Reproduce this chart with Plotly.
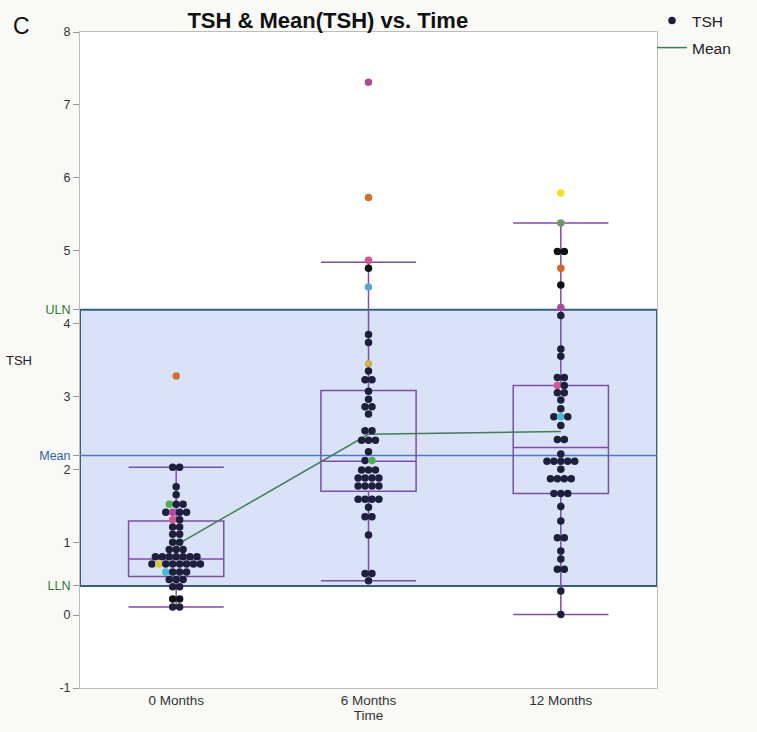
import plotly.graph_objects as go

# ---------------- data ----------------
time_labels = ["0 Months", "6 Months", "12 Months"]

tsh_0m = [0.80, 3.28, 2.03, 2.03, 1.76, 1.65, 1.52, 1.52, 1.52,
          1.41, 1.41, 1.41, 1.41, 1.31, 1.31, 1.21, 1.21, 1.11, 1.11,
          1.00, 1.00, 0.90, 0.90, 0.90, 0.80, 0.80, 0.80, 0.80, 0.80, 0.80,
          0.70, 0.70, 0.70, 0.70, 0.70, 0.70, 0.70, 0.70,
          0.59, 0.59, 0.59, 0.59, 0.49, 0.49, 0.49, 0.39, 0.39,
          0.22, 0.22, 0.11, 0.11]
col_0m = ["navy", "orange", "navy", "navy", "navy", "navy", "green", "navy", "navy",
          "navy", "magenta", "navy", "navy", "pink", "navy", "navy", "navy", "navy", "navy",
          "navy", "navy", "navy", "navy", "navy", "navy", "navy", "navy", "navy", "navy", "navy",
          "navy", "yellow", "navy", "navy", "navy", "navy", "navy", "navy",
          "cyan", "navy", "navy", "navy", "navy", "navy", "navy", "navy", "navy",
          "black", "black", "navy", "navy"]

tsh_6m = [7.31, 5.73, 4.87, 4.76, 4.50, 3.85, 3.74, 3.45, 3.35, 3.23, 3.23,
          3.07, 2.96, 2.86, 2.86, 2.76, 2.53, 2.53, 2.40, 2.40, 2.40, 2.24,
          2.12, 2.12, 1.99, 1.99, 1.99, 1.88, 1.88, 1.88, 1.88,
          1.77, 1.77, 1.77, 1.77, 1.59, 1.59, 1.59, 1.59, 1.48, 1.35, 1.35,
          1.10, 0.57, 0.57, 0.47]
col_6m = ["magenta", "orange", "pink", "black", "steel", "navy", "navy", "yellow2", "navy", "navy", "navy",
          "navy", "navy", "navy", "navy", "navy", "navy", "navy", "navy", "navy", "navy", "navy",
          "navy", "green", "navy", "navy", "navy", "navy", "navy", "navy", "navy",
          "navy", "navy", "navy", "navy", "navy", "navy", "navy", "navy", "navy", "navy", "navy",
          "navy", "navy", "navy", "navy"]

tsh_12m = [5.79, 5.38, 4.99, 4.99, 4.76, 4.53, 4.22, 4.11, 3.65, 3.55, 3.26, 3.26,
           3.15, 3.15, 3.05, 3.05, 2.95, 2.83, 2.72, 2.72, 2.72, 2.60, 2.41, 2.41,
           2.21, 2.11, 2.11, 2.11, 2.11, 2.11, 2.00, 1.87, 1.87, 1.87, 1.87,
           1.67, 1.67, 1.67, 1.49, 1.29, 1.06, 1.06, 0.88, 0.77, 0.63, 0.63, 0.33, 0.01]
col_12m = ["yellow3", "green2", "black", "black", "orange2", "black", "magenta", "navy", "navy", "navy", "navy", "navy",
           "pink", "navy", "navy", "navy", "navy", "navy", "navy", "cyan", "navy", "navy", "navy", "navy",
           "navy", "navy", "navy", "navy", "navy", "navy", "navy", "navy", "navy", "navy", "navy",
           "navy", "navy", "navy", "navy", "navy", "navy", "navy", "navy", "navy", "navy", "navy", "navy", "navy"]

mean_tsh = [0.96, 2.48, 2.52]

box_q1 = [0.53, 1.70, 1.67]
box_median = [0.77, 2.11, 2.30]
box_q3 = [1.29, 3.08, 3.15]
box_lower = [0.11, 0.47, 0.01]
box_upper = [2.03, 4.84, 5.38]

ref_lln, ref_mean, ref_uln = 0.40, 2.19, 4.19

palette = {
    "navy": "#1e1f3d", "black": "#111111", "orange": "#d0702a", "orange2": "#d8602a",
    "green": "#4fb04f", "green2": "#6a9a62", "magenta": "#ad4a9e", "pink": "#d4558f",
    "yellow": "#d6cc3a", "yellow2": "#cdb24a", "yellow3": "#f2e21c", "cyan": "#40bedb",
    "steel": "#5aa6c6",
}

# ---------------- swarm offsets ----------------
SPACING = 0.036


def swarm(values, center):
    xs = []
    groups = {}
    for v in values:
        groups[v] = groups.get(v, 0) + 1
    seen = {}
    for v in values:
        n = groups[v]
        i = seen.get(v, 0)
        seen[v] = i + 1
        xs.append(center + (i - (n - 1) / 2) * SPACING)
    return xs


all_x, all_y, all_c = [], [], []
for k, (vals, cols) in enumerate([(tsh_0m, col_0m), (tsh_6m, col_6m), (tsh_12m, col_12m)]):
    all_x += swarm(vals, k)
    all_y += vals
    all_c += [palette[c] for c in cols]

fig = go.Figure()

# boxes
fig.add_trace(go.Box(
    x=[0, 1, 2], q1=box_q1, median=box_median, q3=box_q3,
    lowerfence=box_lower, upperfence=box_upper,
    width=0.495, whiskerwidth=1,
    line=dict(color="#7d4fa8", width=1.5),
    fillcolor="rgba(0,0,0,0)", showlegend=False, hoverinfo="skip",
))

# mean line
fig.add_trace(go.Scatter(
    x=[0, 1, 2], y=mean_tsh, mode="lines", name="Mean", legend="legend2",
    line=dict(color="#3f7f55", width=1.5),
))

# dots
fig.add_trace(go.Scatter(
    x=all_x, y=all_y, mode="markers", name="TSH", legend="legend",
    marker=dict(color=all_c, size=7.5, line=dict(width=0)),
))

# reference band and mean line
fig.add_shape(type="rect", xref="paper", yref="y", x0=0, x1=1, y0=ref_lln, y1=ref_uln,
              fillcolor="rgba(185,203,238,0.55)", line=dict(color="#35607f", width=2), layer="below")
fig.add_shape(type="line", xref="paper", yref="y", x0=0, x1=1, y0=ref_mean, y1=ref_mean,
              line=dict(color="#4b7cc2", width=1.5), layer="below")

tickvals = list(range(-1, 9)) + [ref_lln, ref_mean, ref_uln]
ticktext = [str(v) for v in range(-1, 9)] + [
    '<span style="color:#2f7a3a">LLN</span>',
    '<span style="color:#2f5fa8">Mean</span>',
    '<span style="color:#2f7a3a">ULN</span>',
]

leg_common = dict(xref="container", yref="container", xanchor="left", yanchor="middle",
                  bgcolor="rgba(0,0,0,0)", font=dict(size=15.5, color="#222222"), itemwidth=30)

fig.update_layout(
    width=757, height=732,
    margin=dict(l=80, r=100, t=32, b=44, autoexpand=False),
    paper_bgcolor="#f9f9f6", plot_bgcolor="white",
    font=dict(family="Liberation Sans, Arial, sans-serif", color="#333333", size=13),
    title=dict(text="<b>TSH & Mean(TSH) vs. Time</b>", x=0.433, xanchor="center",
               y=0.972, yref="container", yanchor="middle",
               font=dict(size=22, color="#111111")),
    legend=dict(x=0.8613, y=0.9713, **leg_common),
    legend2=dict(x=0.8613, y=0.9344, **leg_common),
    xaxis=dict(range=[-0.5, 2.5], tickvals=[0, 1, 2], ticktext=time_labels,
               showgrid=False, zeroline=False, showline=True, mirror=True,
               linecolor="#bdbdbd", linewidth=1, ticks="", tickfont=dict(size=13.5),
               title=dict(text="Time", font=dict(size=13.5), standoff=2)),
    yaxis=dict(range=[-1, 8], tickvals=tickvals, ticktext=ticktext,
               showgrid=False, zeroline=False, showline=True, mirror=True,
               linecolor="#bdbdbd", linewidth=1, ticks="outside", ticklen=6,
               tickcolor="#999999", tickfont=dict(size=12.5)),
    annotations=[
        dict(text="C", xref="paper", yref="paper", x=-0.12, y=1.009, xanchor="left",
             yanchor="middle", showarrow=False, font=dict(size=23, color="#111111")),
        dict(text="TSH", xref="paper", yref="paper", x=-0.132, y=0.500, xanchor="left",
             yanchor="middle", showarrow=False, font=dict(size=13, color="#222222")),
    ],
)

fig.write_html(
    "out.html",
    config={"displayModeBar": False},
    post_script="document.body.style.margin='0';document.body.style.background='#f9f9f6';",
)
